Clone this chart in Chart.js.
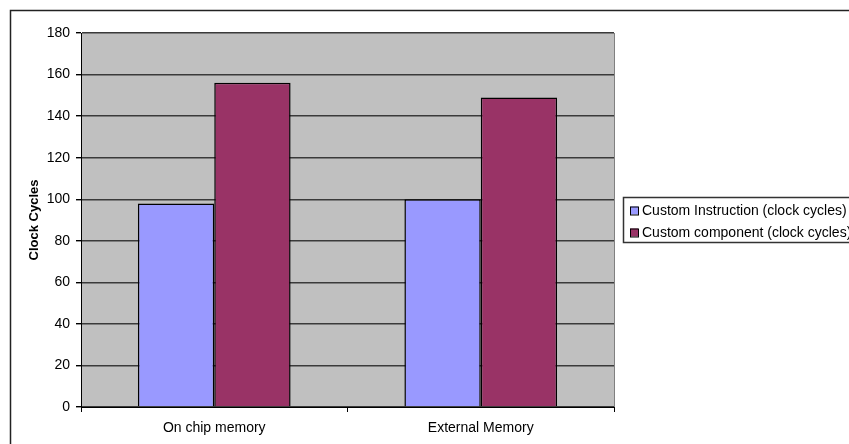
<!DOCTYPE html>
<html>
<head>
<meta charset="utf-8">
<script src="https://cdn.jsdelivr.net/npm/chart.js@4/dist/chart.umd.min.js"></script>
<style>
  html, body { margin: 0; padding: 0; background: #fff; overflow: hidden; }
  #wrap { position: relative; width: 849px; height: 444px; }
</style>
</head>
<body>
<div id="wrap"><canvas id="c" width="849" height="444"></canvas></div>
<script>
// Data
const categories = ['On chip memory', 'External Memory'];
const seriesNames = ['Custom Instruction (clock cycles)', 'Custom component (clock cycles)'];
const customInstruction = [98, 100];
const customComponent = [156, 149];
const yTickValues = [0, 20, 40, 60, 80, 100, 120, 140, 160, 180];
const yAxisTitle = 'Clock Cycles';

const seriesColors = ['#9999FF', '#993366'];
const FONT = "'Liberation Sans', Arial, sans-serif";

// Grey plot background, outer frame and plot right edge
const framePlugin = {
  id: 'frame',
  beforeDraw(chart) {
    const { ctx, chartArea: a } = chart;
    ctx.save();
    ctx.fillStyle = '#ffffff';
    ctx.fillRect(0, 0, chart.width, chart.height);
    ctx.fillStyle = '#C0C0C0';
    ctx.fillRect(a.left, a.top, a.right - a.left, a.bottom - a.top);
    ctx.restore();
  },
  afterDraw(chart) {
    const { ctx, chartArea: a } = chart;
    ctx.save();
    // plot area right edge
    ctx.strokeStyle = '#808080';
    ctx.lineWidth = 1;
    ctx.beginPath();
    ctx.moveTo(a.right + 0.5, a.top);
    ctx.lineTo(a.right + 0.5, a.bottom);
    ctx.stroke();
    // outer chart frame (top and left edges)
    ctx.strokeStyle = '#222';
    ctx.lineWidth = 1.5;
    ctx.beginPath();
    ctx.moveTo(chart.width + 5, 10.5);
    ctx.lineTo(10.5, 10.5);
    ctx.lineTo(10.5, chart.height + 5);
    ctx.stroke();
    ctx.restore();
  }
};

// Boxed legend on the right
const boxLegendPlugin = {
  id: 'boxLegend',
  afterDraw(chart) {
    const { ctx } = chart;
    const x0 = 623, y0 = 197, h = 45;
    ctx.save();
    ctx.strokeStyle = '#333';
    ctx.lineWidth = 1.5;
    ctx.strokeRect(x0 + 0.5, y0 + 0.5, chart.width + 20 - x0, h);
    ctx.font = '14px ' + FONT;
    ctx.textBaseline = 'middle';
    ctx.textAlign = 'left';
    chart.data.datasets.forEach((ds, i) => {
      const cy = 210.5 + i * 22;
      ctx.fillStyle = ds.backgroundColor;
      ctx.fillRect(630, cy - 4, 8, 8);
      ctx.strokeStyle = '#000';
      ctx.lineWidth = 1;
      ctx.strokeRect(630.5, cy - 3.5, 8, 8);
      ctx.fillStyle = '#000';
      ctx.fillText(ds.label, 642, cy + 0.5);
    });
    ctx.restore();
  }
};

new Chart(document.getElementById('c'), {
  type: 'bar',
  data: {
    labels: categories,
    datasets: [
      { label: seriesNames[0], data: customInstruction, backgroundColor: seriesColors[0],
        borderColor: '#000', borderWidth: 1.5 },
      { label: seriesNames[1], data: customComponent, backgroundColor: seriesColors[1],
        borderColor: '#000', borderWidth: 1.5 }
    ]
  },
  options: {
    responsive: false,
    animation: false,
    devicePixelRatio: 1,
    layout: { padding: { left: 0, right: 235, top: 33, bottom: 0 } },
    datasets: { bar: { categoryPercentage: 0.573, barPercentage: 1.0 } },
    plugins: { legend: { display: false }, tooltip: { enabled: false } },
    scales: {
      x: {
        afterFit(scale) { scale.height = 37; },
        grid: { offset: true, drawOnChartArea: false, color: '#000', tickLength: 5, lineWidth: 1 },
        border: { display: true, color: '#000', width: 1 },
        ticks: { color: '#000', font: { family: FONT, size: 14 }, padding: 8 }
      },
      y: {
        min: 0, max: 180,
        afterFit(scale) { scale.width = 81; },
        afterBuildTicks(scale) { scale.ticks = yTickValues.map(v => ({ value: v })); },
        grid: { color: '#3a3a3a', lineWidth: 1.4, tickLength: 5, tickColor: '#000' },
        border: { display: true, color: '#000', width: 1 },
        ticks: { color: '#000', font: { family: FONT, size: 14 }, padding: 6 },
        title: {
          display: true, text: yAxisTitle, color: '#000',
          font: { family: FONT, size: 13, weight: 'bold' },
          padding: { top: 27, bottom: 0 }
        }
      }
    }
  },
  plugins: [framePlugin, boxLegendPlugin]
});
</script>
</body>
</html>
